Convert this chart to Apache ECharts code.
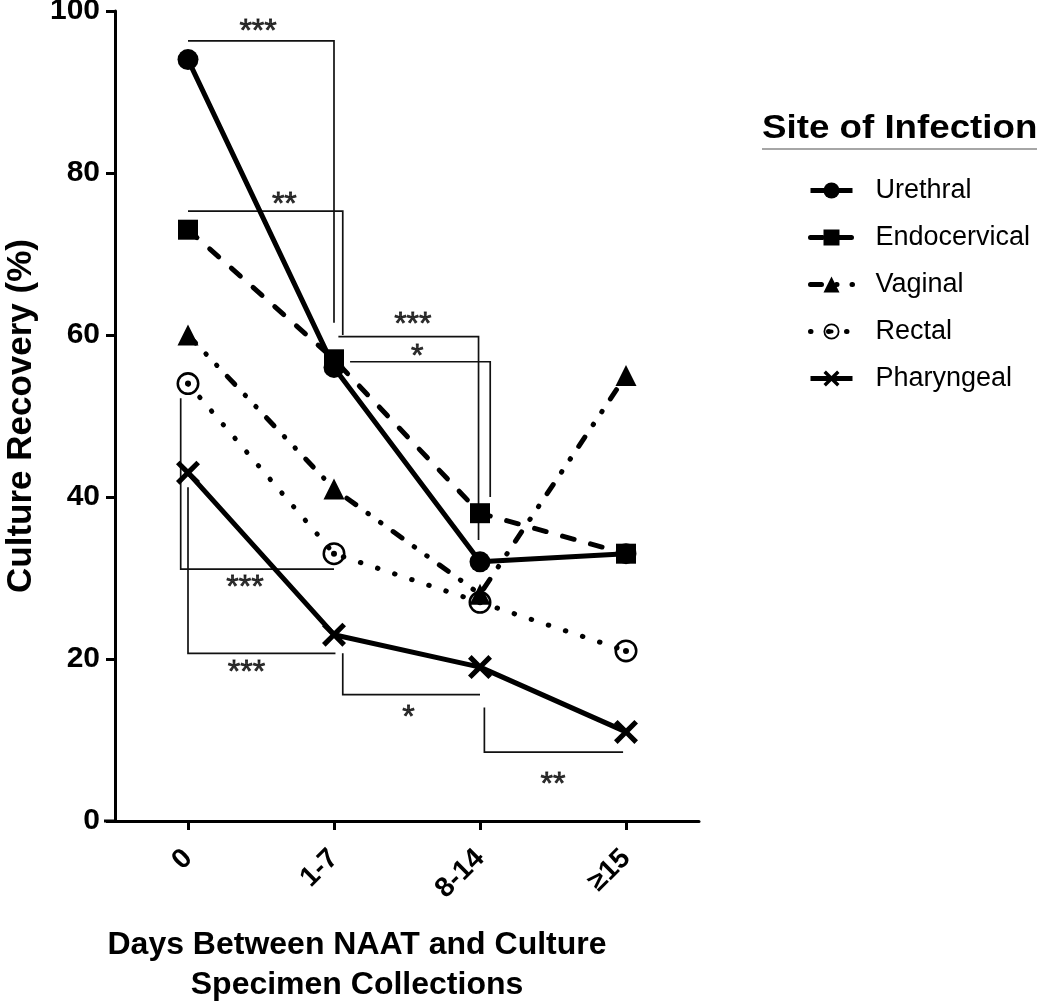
<!DOCTYPE html>
<html>
<head>
<meta charset="utf-8">
<script src="https://cdn.jsdelivr.net/npm/echarts@6/dist/echarts.min.js"></script>
<style>
html,body{margin:0;padding:0;background:#fff;}
#chart{width:1050px;height:1007px;}
</style>
</head>
<body>
<div id="chart"></div>
<script>
// ---- data ----
const categories = ['0', '1-7', '8-14', '\u226515'];
const urethral = [94, 56, 32, 33];
const endocervical = [73, 57, 38, 33];
const vaginal = [60, 41, 28, 55];
const rectal = [54, 33, 27, 21];
const pharyngeal = [43, 23, 19, 11];
const seriesNames = ['Urethral', 'Endocervical', 'Vaginal', 'Rectal', 'Pharyngeal'];

// significance brackets (x in category-index units, y in %)
const bracketPaths = [
  [[0, 96.3], [1, 96.3], [1, 61.5]],
  [[0, 75.3], [1.06, 75.3], [1.06, 60]],
  [[1.03, 59.8], [1.99, 59.8], [1.99, 34.7]],
  [[1.11, 56.7], [2.07, 56.7], [2.07, 40]],
  [[-0.05, 52.2], [-0.05, 31.1], [1.0, 31.1]],
  [[0, 41.2], [0, 20.7], [1.01, 20.7]],
  [[1.06, 20.7], [1.06, 15.6], [2.0, 15.6]],
  [[2.03, 14], [2.03, 8.5], [2.98, 8.5]]
];
const bracketStars = ['***', '**', '***', '*', '***', '***', '*', '**'];
const bracketStarPos = [
  [0.48, 97.4], [0.66, 76.0], [1.54, 61.2], [1.57, 57.3],
  [0.39, 28.7], [0.40, 18.2], [1.51, 12.7], [2.5, 4.4]
];

// ---- layout constants ----
const GL = 115, GR = 699, GT = 11, GB = 821;
const FONT = '"Liberation Sans", Arial, sans-serif';

const ringPath = 'path://M0,-10A10,10,0,1,1,0,10A10,10,0,1,1,0,-10ZM0,-7.8A7.8,7.8,0,1,0,0,7.8A7.8,7.8,0,1,0,0,-7.8ZM0,-2.6A2.6,2.6,0,1,1,0,2.6A2.6,2.6,0,1,1,0,-2.6Z';
const crossPath = 'path://M3,0L10,7L17,0L20,3L13,10L20,17L17,20L10,13L3,20L0,17L7,10L0,3Z';

const chart = echarts.init(document.getElementById('chart'));

function lineSeries(name, data, symbol, size, lineStyle) {
  return {
    name: name, type: 'line', data: data, symbol: symbol, symbolSize: size,
    showSymbol: true, xAxisIndex: 0, yAxisIndex: 0,
    itemStyle: { color: '#000', opacity: 1 },
    lineStyle: Object.assign({ color: '#000', width: 5 }, lineStyle),
    emphasis: { disabled: true }, animation: false, z: 3
  };
}

const option = {
  backgroundColor: '#fff',
  animation: false,
  grid: { left: GL, right: 1050 - GR, top: GT, bottom: 1007 - GB, containLabel: false, outerBoundsMode: 'none' },
  xAxis: [
    {
      type: 'category', data: categories, boundaryGap: true,
      axisLine: { show: true, onZero: false, lineStyle: { color: '#000', width: 3 } },
      axisTick: { show: true, alignWithLabel: true, length: 9, inside: false, lineStyle: { color: '#000', width: 3 } },
      axisLabel: { rotate: 45, margin: 33, color: '#000', fontSize: 28, fontWeight: 'bold', fontFamily: FONT },
      splitLine: { show: false }
    },
    { type: 'value', min: -0.5, max: 3.5, show: false, gridIndex: 0, axisLine: { onZero: false } }
  ],
  yAxis: {
    type: 'value', min: 0, max: 100, interval: 20,
    name: 'Culture Recovery (%)', nameLocation: 'middle', nameRotate: 90, nameGap: 76,
    nameTextStyle: { color: '#000', fontSize: 35, fontWeight: 'bold', fontFamily: FONT },
    axisLine: { show: true, onZero: false, lineStyle: { color: '#000', width: 3 } },
    axisTick: { show: true, length: 9, lineStyle: { color: '#000', width: 3 } },
    axisLabel: { margin: 15, color: '#000', fontSize: 30, fontWeight: 'bold', fontFamily: FONT },
    splitLine: { show: false }
  },
  legend: {
    orient: 'vertical', left: 803, top: 172, itemWidth: 42, itemHeight: 20, itemGap: 20,
    data: seriesNames,
    lineStyle: { width: 5 },
    textStyle: { color: '#000', fontSize: 27, fontFamily: FONT, padding: [0, 0, 0, 18] },
    selectedMode: false
  },
  graphic: [
    { type: 'text', left: 762, top: 112, scaleX: 1.08, style: { text: 'Site of Infection', fill: '#000', font: 'bold 34px ' + FONT } },
    { type: 'line', shape: { x1: 762, y1: 149, x2: 1037, y2: 149 }, style: { stroke: '#888', lineWidth: 1.5 } },
    { type: 'line', shape: { x1: GL - 11, y1: GB, x2: GL, y2: GB }, style: { stroke: '#000', lineWidth: 3 } },
    { type: 'text', x: 357, y: 945, style: { text: 'Days Between NAAT and Culture', fill: '#000', font: 'bold 32px ' + FONT, align: 'center', verticalAlign: 'middle' } },
    { type: 'text', x: 357, y: 985, style: { text: 'Specimen Collections', fill: '#000', font: 'bold 32px ' + FONT, align: 'center', verticalAlign: 'middle' } }
  ],
  series: [
    {
      name: 'brackets', type: 'lines', coordinateSystem: 'cartesian2d', xAxisIndex: 1, yAxisIndex: 0,
      polyline: true, silent: true, z: 2,
      lineStyle: { color: '#111', width: 1.7, opacity: 1 },
      data: bracketPaths.map(p => ({ coords: p }))
    },
    {
      name: 'stars', type: 'scatter', xAxisIndex: 1, yAxisIndex: 0, symbolSize: 1, silent: true, z: 2,
      itemStyle: { color: 'rgba(0,0,0,0)' },
      label: { show: true, position: 'inside', formatter: p => bracketStars[p.dataIndex], color: '#000', fontSize: 32, fontFamily: FONT, textBorderColor: '#000', textBorderWidth: 0.8 },
      data: bracketStarPos
    },
    lineSeries('Urethral', urethral, 'circle', 21, { width: 5, type: 'solid' }),
    lineSeries('Endocervical', endocervical, 'rect', 20, { width: 5, type: [12, 17], cap: 'round' }),
    lineSeries('Vaginal', vaginal, 'triangle', 21, { width: 5, type: [11, 15, 0.5, 15, 0.5, 15], cap: 'round' }),
    lineSeries('Rectal', rectal, ringPath, 23, { width: 5, type: [0.5, 17.5], cap: 'round' }),
    lineSeries('Pharyngeal', pharyngeal, crossPath, 24, { width: 5, type: 'solid' })
  ]
};
chart.setOption(option);
</script>
</body>
</html>
